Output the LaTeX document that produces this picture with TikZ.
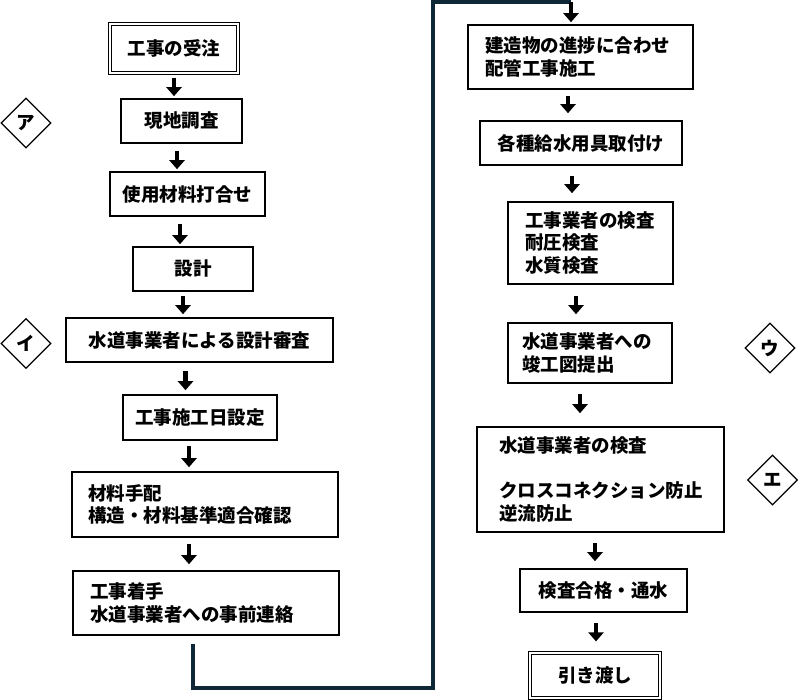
\documentclass[tikz,border=0pt]{standalone}
\usepackage{fontspec}
\usepackage{tikz}
\usetikzlibrary{
    arrows.meta,
    shapes.geometric,
    calc,
    positioning
}
\newfontfamily\gothic{Noto Sans CJK JP}
\definecolor{pipeline}{HTML}{0F2838}

\tikzset{
    stepbox/.style={draw, line width=1.6pt, inner sep=0pt, minimum height=44pt},
    endbox/.style={stepbox, line width=1.2pt, double, double distance=2.4pt},
    listbox/.style={stepbox, align=left},
    mark box/.style={draw, diamond, line width=1.2pt, inner sep=0pt, minimum width=50pt, minimum height=50pt},
    flow/.style={line width=4.5pt, -{Triangle[width=15pt,length=9pt]}},
    link/.style={draw=pipeline, line width=4pt}
}

\begin{document}
\begin{tikzpicture}[x=1pt, y=-1pt, every node/.style={font=\gothic\bfseries\fontsize{18.5}{22.5}\selectfont}]
                                \useasboundingbox (0, 0) rectangle (800, 699);
                                % left column
                                \node[endbox, minimum width=128pt, minimum height=49pt] (order) at (174, 48.5) {工事の受注};
                                \node[stepbox, minimum width=121pt] (survey) at (181.5, 121) {現地調査};
                                \node[stepbox, minimum width=155pt] (meeting) at (187.5, 194) {使用材料打合せ};
                                \node[stepbox, minimum width=120pt] (design) at (193, 269) {設計};
                                \node[stepbox, minimum width=267pt] (review) at (199.5, 340) {水道事業者による設計審査};
                                \node[stepbox, minimum width=154pt, minimum height=45pt] (schedule) at (200, 417.5) {工事施工日設定};
                                \node[listbox, minimum width=266pt, text width=234pt, minimum height=65pt] (procure) at (205, 504.5) {材料手配\\構造・材料基準適合確認};
                                \node[listbox, minimum width=266pt, text width=232pt, minimum height=64pt] (start) at (206, 603) {工事着手\\水道事業者への事前連絡};
                                % right column
                                \node[listbox, minimum width=225pt, text width=191pt, minimum height=64pt] (pipe) at (580.5, 57) {建造物の進捗に合わせ\\配管工事施工};
                                \node[stepbox, minimum width=202pt] (fixture) at (581, 143) {各種給水用具取付け};
                                \node[listbox, minimum width=165pt, text width=131pt, minimum height=82pt] (selfcheck) at (590.5, 243) {工事業者の検査\\耐圧検査\\水質検査};
                                \node[listbox, minimum width=164pt, text width=136pt, minimum height=60pt] (asbuilt) at (590, 353) {水道事業者への\\竣工図提出};
                                \node[listbox, minimum width=247pt, text width=203pt, minimum height=105pt] (utilcheck) at (600.5, 479.5) {水道事業者の検査\\[22.5pt]クロスコネクション防止\\逆流防止};
                                \node[stepbox, minimum width=167pt, minimum height=43pt] (pass) at (603.5, 590.5) {検査合格・通水};
                                \node[endbox, minimum width=130pt, minimum height=45pt] (handover) at (595, 675.5) {引き渡し};
                                % marks
                                \node[mark box] (markA) at (26, 123) {ア};
                                \node[mark box] (markB) at (26, 343.5) {イ};
                                \node[mark box] (markC) at (770, 348) {ウ};
                                \node[mark box] (markD) at (772.5, 480) {エ};
                                % arrows
                                \draw[flow] ([yshift=-4pt]order.south) -- ([yshift=2pt]order.south |- survey.north);
                                \draw[flow] ([xshift=-4.5pt,yshift=-7pt]survey.south) -- ([xshift=-4.5pt,yshift=2pt]survey.south |- meeting.north);
                                \draw[flow] ([xshift=-7.5pt,yshift=-7pt]meeting.south) -- ([xshift=-7.5pt,yshift=2pt]meeting.south |- design.north);
                                \draw[flow] ([xshift=-10pt,yshift=-4pt]design.south) -- ([xshift=-10pt,yshift=3pt]design.south |- review.north);
                                \draw[flow] ([xshift=-14pt,yshift=-8pt]review.south) -- ([xshift=-14pt,yshift=4pt]review.south |- schedule.north);
                                \draw[flow] ([xshift=-11pt,yshift=-5pt]schedule.south) -- ([xshift=-11pt,yshift=4pt]schedule.south |- procure.north);
                                \draw[flow] ([xshift=-16pt,yshift=-6pt]procure.south) -- ([xshift=-16pt,yshift=6pt]procure.south |- start.north);
                                \draw[flow] ([xshift=-12.5pt,yshift=-6pt]pipe.south) -- ([xshift=-12.5pt,yshift=7pt]pipe.south |- fixture.north);
                                \draw[flow] ([xshift=-9pt,yshift=-10pt]fixture.south) -- ([xshift=-9pt,yshift=8pt]fixture.south |- selfcheck.north);
                                \draw[flow] ([xshift=-14.5pt,yshift=-11pt]selfcheck.south) -- ([xshift=-14.5pt,yshift=8pt]selfcheck.south |- asbuilt.north);
                                \draw[flow] ([xshift=-10pt,yshift=-10pt]asbuilt.south) -- ([xshift=-10pt,yshift=13pt]asbuilt.south |- utilcheck.north);
                                \draw[flow] ([xshift=-5.5pt,yshift=-10pt]utilcheck.south) -- ([xshift=-5.5pt,yshift=7pt]utilcheck.south |- pass.north);
                                \draw[flow] ([xshift=-7.5pt,yshift=-10pt]pass.south) -- ([xshift=-7.5pt,yshift=11pt]pass.south |- handover.north);
                                % column change
                                \coordinate (lowbend) at (433, 688);
                                \coordinate (topbend) at (433, 1.5);
                                \coordinate (drop) at ([xshift=-9.5pt]pipe.north |- topbend);
                                \draw[link] ([xshift=-13.5pt,yshift=-8pt]start.south) |- (lowbend) -- (topbend) -- (drop);
                                \draw[flow] (drop) -- ([xshift=-9.5pt,yshift=2pt]pipe.north);
                            \end{tikzpicture}
\end{document}
